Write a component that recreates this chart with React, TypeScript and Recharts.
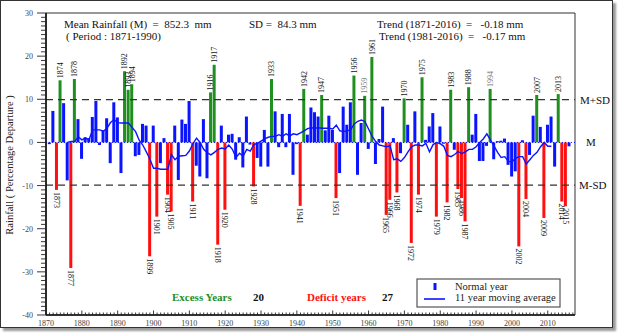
import React from "react"
import { ComposedChart, Bar, Line, XAxis, YAxis, ReferenceLine, ReferenceArea } from "recharts"

// percentage departure of annual rainfall, one value per year from 1871
const firstYear = 1871
const departures = [
  -0.4, 7.3, -11.0, 14.4, 9.1, -8.8, -29.1, 14.7, 5.4, -3.8,
  1.2, 1.0, 5.9, 9.6, -0.6, 2.8, 5.6, -4.8, 9.3, 5.8,
  -7.1, 16.5, 12.2, 13.5, -3.2, -2.9, 4.3, 3.9, -26.4, 3.9,
  -17.2, -4.8, 1.0, -12.1, -16.0, 3.9, -8.7, 5.3, 4.3, 9.6,
  -13.7, -5.4, -7.9, 5.4, -8.3, 11.6, 18.0, -23.7, 3.9, -15.6,
  1.8, 2.0, -4.0, 1.2, -5.8, 6.0, -0.5, -10.2, -3.6, -5.6,
  2.9, -5.6, 14.7, 7.2, -1.1, 6.6, -1.1, 6.6, -7.5, -0.4,
  -14.7, 12.4, 1.8, 8.1, 7.0, 6.0, 11.0, 2.8, 6.2, 2.9,
  -12.9, -7.1, 8.3, 4.1, 9.3, 15.5, -7.5, 4.5, 10.8, -1.5,
  19.8, -5.0, 0.8, 8.3, -16.8, -13.3, 1.0, -11.6, -2.5, 10.2,
  4.1, -23.3, 7.2, -12.1, 15.1, 0.6, 3.7, 6.8, -17.2, 3.7,
  -0.3, -13.9, 12.2, -1.7, -10.8, -12.9, -18.3, 12.8, 1.8, 6.6,
  -4.3, -4.3, -0.8, 12.4, -3.9, 0.3, 0.4, 0.9, -5.2, -7.9,
  -6.7, -24.1, 0.5, -13.1, -2.9, 6.2, 11.0, 3.6, -17.5, 4.1,
  6.0, -5.6, 11.2, -13.7, -14.8, -0.9,
]

// 11 year moving average as drawn, 1876 - 2011
const maFirstYear = 1876
const movingAverage = [
  0.0, 0.2, 0.2, 1.3, 0.6, 1.0, 0.6, 2.9, 2.9, 2.9,
  2.6, 3.3, 4.6, 5.3, 4.6, 4.5, 4.5, 4.5, 3.5, 2.5,
  0.5, -0.6, -2.2, -3.9, -6.0, -6.0, -6.2, -6.2, -6.2, -2.8,
  -4.0, -3.2, -3.1, -3.0, -2.0, -0.3, 1.0, 0.0, -1.6, -2.4,
  -2.9, -2.3, -1.6, -1.3, -1.5, -0.6, -1.6, -3.5, -2.5, -3.2,
  -1.6, -2.0, -0.5, -0.2, 0.3, 0.8, 1.2, 1.4, 1.4, 1.8,
  1.4, 2.0, 1.5, 2.0, 1.8, 2.2, 2.7, 3.2, 3.4, 3.3,
  3.4, 3.3, 3.3, 3.3, 3.1, 4.0, 2.7, 2.5, 2.7, 2.9,
  4.3, 4.9, 5.2, 4.8, 3.1, 1.4, 0.2, -0.6, -0.8, -1.0,
  -0.8, -4.0, -3.8, -4.4, -3.5, -2.2, -1.0, -0.6, -0.6, -0.8,
  -0.2, -2.2, -0.5, 0.0, -0.3, -0.9, -3.0, -3.3, -2.8, -2.1,
  -2.6, -2.2, -1.6, -1.6, -1.0, 0.0, 0.8, 2.0, 0.6, -0.8,
  -2.3, -3.5, -3.3, -4.4, -4.5, -3.7, -3.3, -3.3, -5.0, -4.0,
  -3.0, -2.3, -1.0, 0.0, -0.9, -0.9,
]

const excessYears = [1874, 1878, 1892, 1893, 1894, 1916, 1917, 1933, 1942, 1947, 1956, 1959, 1961, 1970, 1975, 1983, 1988, 1994, 2007, 2013]
const deficitYears = [1873, 1877, 1899, 1901, 1904, 1905, 1911, 1918, 1920, 1928, 1941, 1951, 1965, 1966, 1968, 1972, 1974, 1979, 1982, 1985, 1986, 1987, 2002, 2004, 2009, 2014, 2015]
const fadedLabels = [1959, 1994]

const sdLevel = 9.9
const yTicks = Array.from({ length: 71 }, (_, i) => -40 + i)
const xTicks = Array.from({ length: 148 }, (_, i) => 1870 + i)

const data = departures.map((value, i) => {
  const year = firstYear + i
  const k = year - maFirstYear
  return { year, value, ma: k >= 0 && k < movingAverage.length ? movingAverage[k] : null }
})

const BLUE = "#0a14ff"
const GREEN = "#1f8f1f"
const RED = "#ff1010"
const SERIF = "'Liberation Serif', 'Times New Roman', serif"

// keep runs of spaces in svg text
const sp = (s: string) => s.replace(/ /g, "\u00a0")

const YTick = (props: any) => {
  const { x, y, payload } = props
  const v = payload.value
  const major = v % 10 === 0
  return (
    <g>
      <line x1={x} x2={x - (major ? 9 : 5)} y1={y} y2={y} stroke="#222" strokeWidth={0.9} />
      {major && (
        <text x={x - 13} y={y} dy={3} textAnchor="end" fontSize={8} fill="#444" fontFamily={SERIF}>
          {v}
        </text>
      )}
    </g>
  )
}

const XTick = (props: any) => {
  const { x, y, payload } = props
  const v = payload.value
  const major = v % 10 === 0
  return (
    <g>
      <line x1={x} x2={x} y1={y} y2={y - (major ? 4.5 : 2.5)} stroke="#222" strokeWidth={0.9} />
      {major && (
        <text x={x} y={y + 11} textAnchor="middle" fontSize={8} fill="#444" fontFamily={SERIF}>
          {v}
        </text>
      )}
    </g>
  )
}

const BarShape = (props: any) => {
  const { x, y, width, height } = props
  const year = props.payload ? props.payload.year : props.year
  const top = Math.min(y, y + height)
  const h = Math.abs(height)
  const excess = excessYears.includes(year)
  const deficit = deficitYears.includes(year)
  const fill = excess ? GREEN : deficit ? RED : BLUE
  const cx = x + width / 2
  const labelFill = fadedLabels.includes(year) ? "#777" : "#111"
  return (
    <g>
      <rect x={x} y={top} width={width} height={h} fill={fill} />
      {excess && (
        <text transform={`translate(${cx},${top - 2}) rotate(-90)`} dy={2.8} fontSize={8} fill={labelFill} fontFamily={SERIF}>
          {year}
        </text>
      )}
      {deficit && (
        <text transform={`translate(${cx},${top + h + 2}) rotate(90)`} dy={2.8} fontSize={8} fill={labelFill} fontFamily={SERIF}>
          {year}
        </text>
      )}
    </g>
  )
}

const sideLabel = (value: string, offset: number) => ({
  value,
  position: "right" as const,
  offset,
  fill: "#111",
  fontSize: 11,
  fontFamily: SERIF,
})

export default function App() {
  return (
    <div style={{ position: "absolute", left: 0, top: 0, width: 618, height: 333, background: "#fff" }}>
      <div
        style={{
          position: "absolute",
          left: 0,
          top: 0,
          width: 611,
          height: 326,
          border: "1px solid #333",
          boxShadow: "3px 3px 2px #9a9a9a",
        }}
      />
      <div style={{ position: "absolute", left: 0, top: 0 }}>
        <ComposedChart width={618} height={333} data={data} margin={{ top: 13, right: 43, bottom: 0, left: 0 }}>
          <XAxis
            dataKey="year"
            type="number"
            domain={[1870, 2017.6]}
            allowDataOverflow
            ticks={xTicks}
            interval={0}
            height={18}
            tickSize={0}
            tickMargin={0}
            tickLine={false}
            tick={<XTick />}
            axisLine={{ stroke: "#111", strokeWidth: 1.6 }}
          />
          <YAxis
            type="number"
            domain={[-40, 30]}
            allowDataOverflow
            ticks={yTicks}
            interval={0}
            width={46}
            tickSize={0}
            tickMargin={0}
            tickLine={false}
            tick={<YTick />}
            axisLine={{ stroke: "#111", strokeWidth: 1.6 }}
          />
          <ReferenceArea x1={1870} x2={2017.6} y1={-40} y2={30} fill="none" stroke="#333" strokeWidth={1} />
          <ReferenceLine y={0} stroke={BLUE} strokeDasharray="1 2" strokeWidth={1} label={sideLabel("M", 11)} />
          <ReferenceLine y={sdLevel} stroke="#333" strokeDasharray="7 5" strokeWidth={1.2} label={sideLabel("M+SD", 5)} />
          <ReferenceLine y={-sdLevel} stroke="#333" strokeDasharray="7 5" strokeWidth={1.2} label={sideLabel("M-SD", 4)} />
          <Bar dataKey="value" barSize={3} shape={<BarShape />} isAnimationActive={false} />
          <Line
            dataKey="ma"
            type="linear"
            stroke={BLUE}
            strokeWidth={1.4}
            dot={false}
            activeDot={false}
            connectNulls={false}
            isAnimationActive={false}
          />
        </ComposedChart>
      </div>
      <svg
        width={618}
        height={333}
        style={{ position: "absolute", left: 0, top: 0, pointerEvents: "none" }}
        fontFamily={SERIF}
      >
        <text transform="translate(12.5,165) rotate(-90)" textAnchor="middle" fontSize={10.5} fill="#222">
          Rainfall ( Percentage Departure )
        </text>
        <text x={64} y={28} fontSize={11} fill="#111">{sp("Mean Rainfall (M)  =  852.3  mm")}</text>
        <text x={66} y={39.5} fontSize={11} fill="#111">{sp("( Period : 1871-1990)")}</text>
        <text x={249} y={28} fontSize={11} fill="#111">{sp("SD =  84.3 mm")}</text>
        <text x={377} y={28} fontSize={11} fill="#111">{sp("Trend (1871-2016)  =   -0.18 mm")}</text>
        <text x={379} y={39.5} fontSize={11} fill="#111">{sp("Trend (1981-2016)  =   -0.17 mm")}</text>
        <text x={172} y={301} fontSize={11} fontWeight="bold" fill={GREEN}>Excess Years</text>
        <text x={253} y={301} fontSize={11} fontWeight="bold" fill="#111">{excessYears.length}</text>
        <text x={307} y={301} fontSize={11} fontWeight="bold" fill={RED}>Deficit years</text>
        <text x={382} y={301} fontSize={11} fontWeight="bold" fill="#111">{deficitYears.length}</text>
        <rect x={417} y={279} width={143} height={28} fill="#fff" stroke="#555" strokeWidth={1.2} />
        <rect x={433.5} y={283} width={3} height={7} fill={BLUE} />
        <line x1={424} x2={445} y1={299} y2={299} stroke={BLUE} strokeWidth={1.6} />
        <text x={455} y={289.5} fontSize={10.5} fill="#222">Normal year</text>
        <text x={455} y={300.5} fontSize={10.5} fill="#222">11 year moving average</text>
      </svg>
    </div>
  )
}
